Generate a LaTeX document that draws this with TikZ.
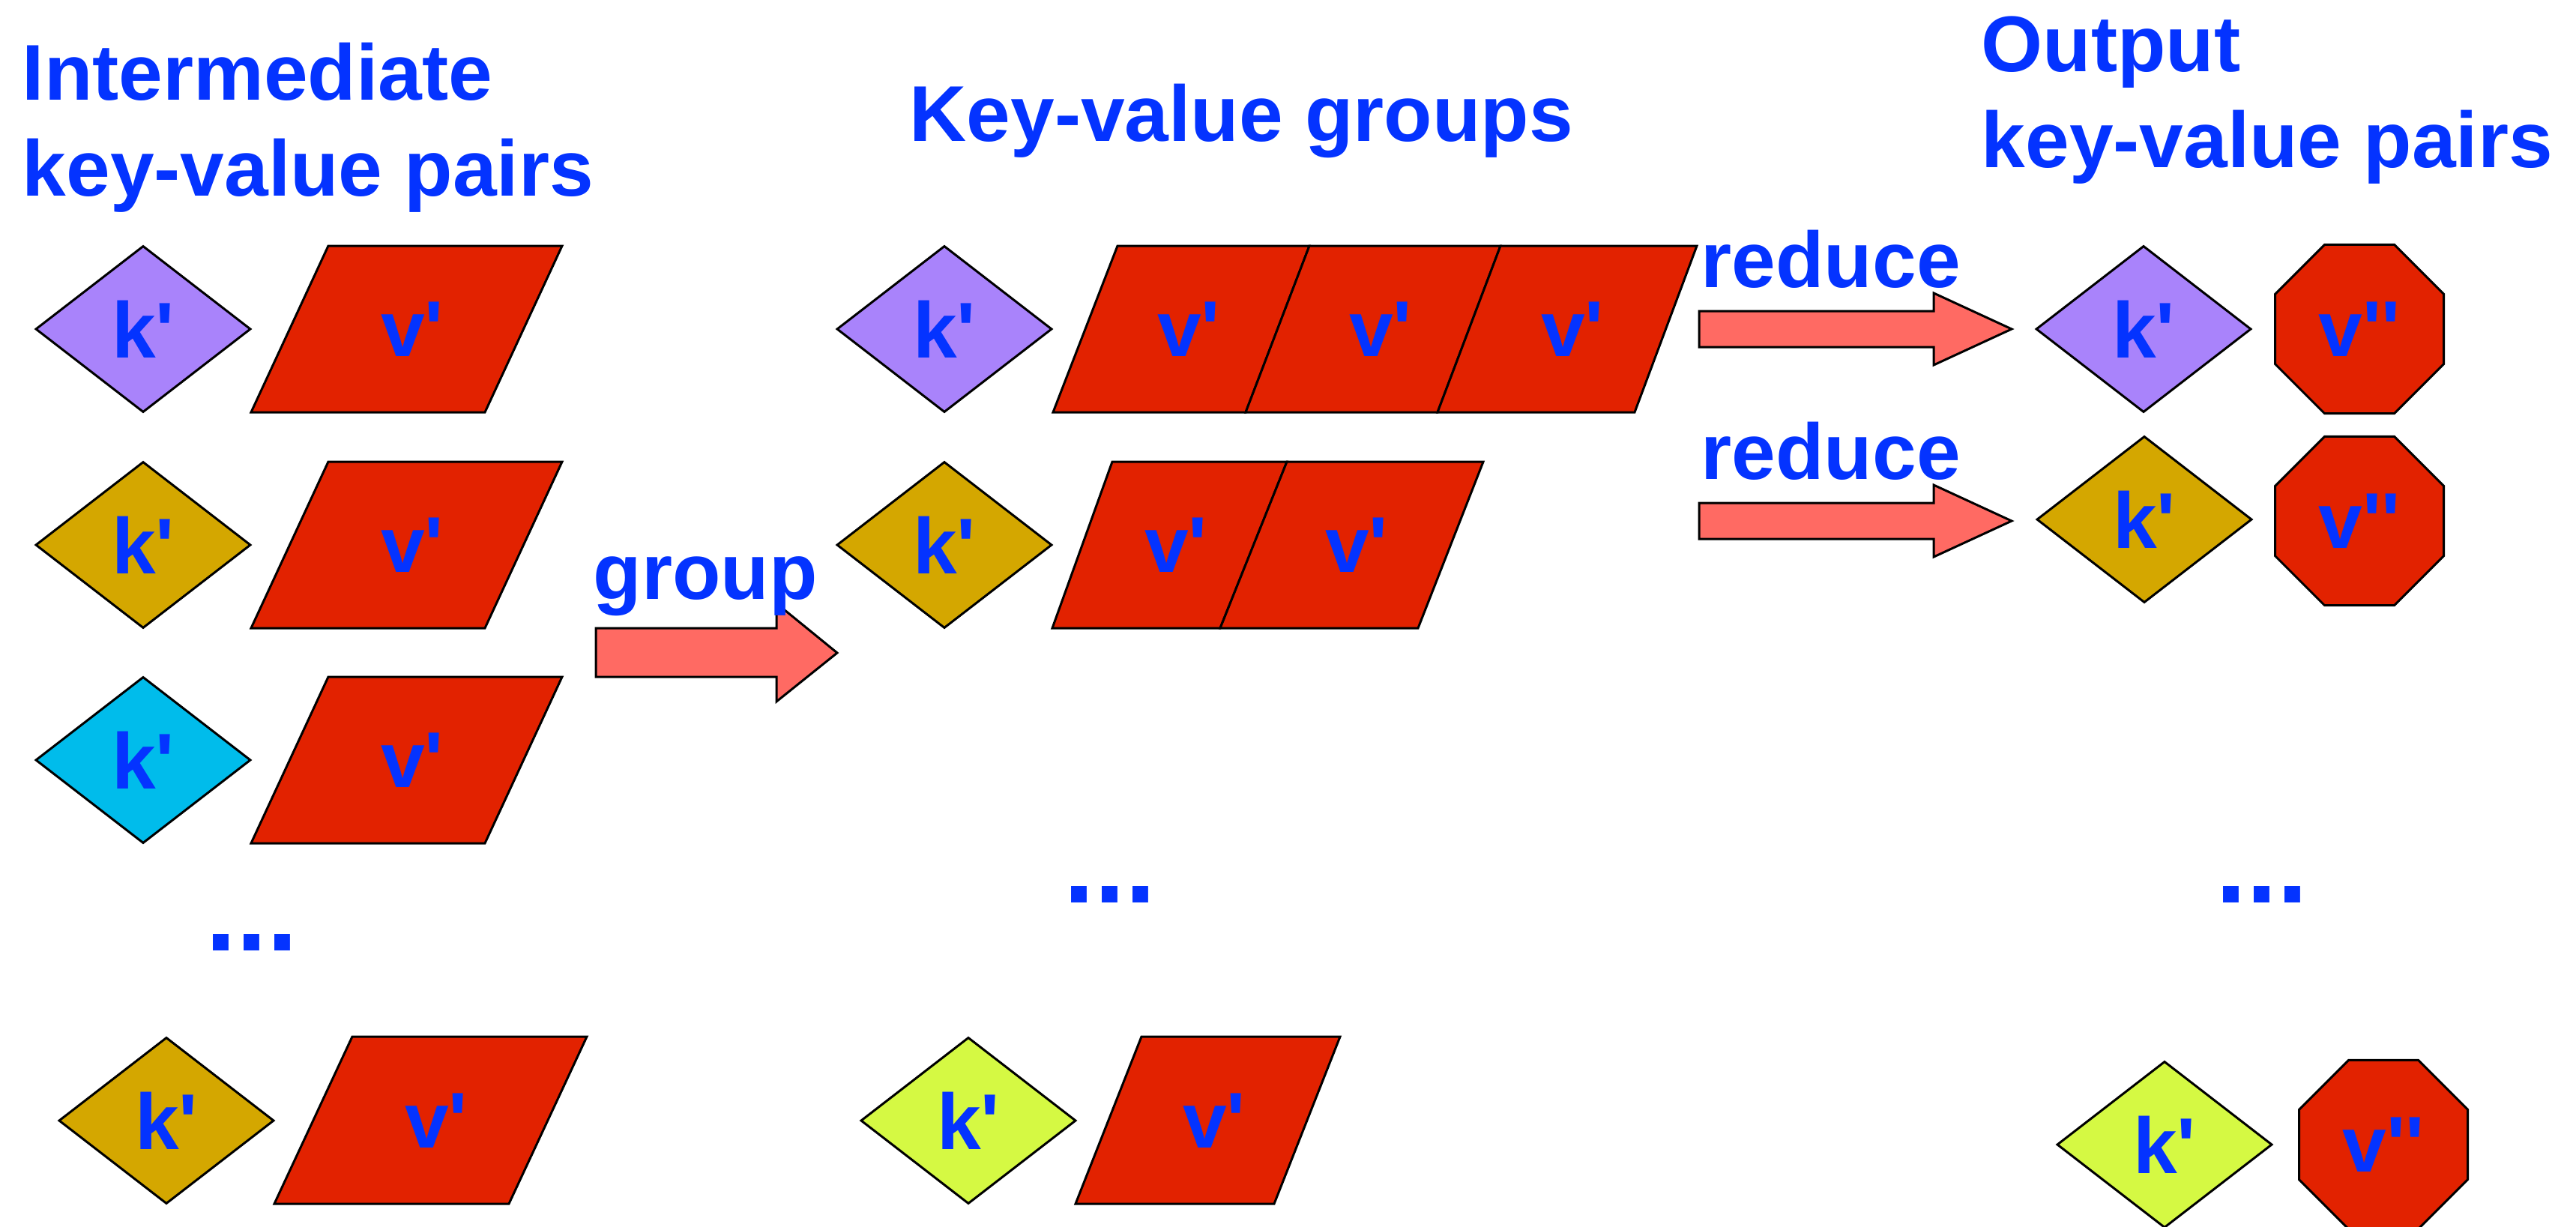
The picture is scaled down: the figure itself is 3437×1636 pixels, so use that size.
\documentclass[tikz,border=0pt]{standalone}
\usepackage{fontspec}
\newfontfamily\slidefont{Liberation Sans}
\usetikzlibrary{shapes.geometric}

\definecolor{txtblue}{HTML}{0433FF}
\definecolor{keypurple}{HTML}{A983FB}
\definecolor{keygold}{HTML}{D4A700}
\definecolor{keycyan}{HTML}{00BCEB}
\definecolor{keylime}{HTML}{D5F943}
\definecolor{valred}{HTML}{E22200}
\definecolor{arrowred}{HTML}{FF6A63}

\tikzset{
  lbl/.style={font=\slidefont\bfseries\fontsize{30}{36.4}\selectfont, text=txtblue, inner sep=0},
  dots/.style={font=\slidefont\bfseries\fontsize{42}{50}\selectfont, text=txtblue, inner sep=0, anchor=base},
  key/.style={diamond, draw=black, line width=0.85pt, inner sep=0, minimum width=2.87cm, minimum height=2.22cm, lbl},
  outval/.style={regular polygon, regular polygon sides=8, draw=black, fill=valred, line width=0.85pt, inner sep=0, minimum size=2.435cm, lbl},
  val/.style={draw=black, fill=valred, line width=0.85pt},
  blk/.style={draw=black, fill=arrowred, line width=0.85pt}
}

\begin{document}
\begin{tikzpicture}[x=0.01cm, y=-0.01cm]
\useasboundingbox (0,0) rectangle (3437,1636);

% titles
\node[lbl, align=left, anchor=north west] (inter) at (29,56) {Intermediate\\key-value pairs};
\node[lbl, anchor=base west] (groups) at (1213,188) {Key-value groups};
\node[lbl, align=left, anchor=north west] (output) at (2643,21) {Output\\key-value pairs};

% intermediate pairs
\node[key, fill=keypurple] (ka) at (191,439) {k\textquotesingle};
\draw[val] (335,550) -- (647,550) -- (750,328) -- (438,328) -- cycle;
\node[lbl] (va) at (550,439) {v\textquotesingle};
\node[key, fill=keygold] (kb) at (191,727) {k\textquotesingle};
\draw[val] (335,838) -- (647,838) -- (750,616) -- (438,616) -- cycle;
\node[lbl] (vb) at (550,727) {v\textquotesingle};
\node[key, fill=keycyan] (kc) at (191,1014) {k\textquotesingle};
\draw[val] (335,1125) -- (647,1125) -- (750,903) -- (438,903) -- cycle;
\node[lbl] (vc) at (550,1014) {v\textquotesingle};
\node[dots] (dl) at (336,1268) {...};
\node[key, fill=keygold] (kd) at (222,1495) {k\textquotesingle};
\draw[val] (366,1606) -- (679,1606) -- (783,1383) -- (470,1383) -- cycle;
\node[lbl] (vd) at (582,1495) {v\textquotesingle};

% group
\draw[blk] (795,838) -- (1036,838) -- (1036,805) -- (1117,871) -- (1036,936) -- (1036,903) -- (795,903) -- cycle;
\node[lbl, anchor=base west] (grp) at (791,799) {group};

% key-value groups
\node[key, fill=keypurple] (ga) at (1260,439) {k\textquotesingle};
\draw[val] (1405,550) -- (1662,550) -- (1747,328) -- (1491,328) -- cycle;
\draw[val] (1662,550) -- (1918,550) -- (2002,328) -- (1747,328) -- cycle;
\draw[val] (1918,550) -- (2181,550) -- (2264,328) -- (2002,328) -- cycle;
\node[lbl] (ga1) at (1586,439) {v\textquotesingle};
\node[lbl] (ga2) at (1842,439) {v\textquotesingle};
\node[lbl] (ga3) at (2098,439) {v\textquotesingle};
\node[key, fill=keygold] (gb) at (1260,727) {k\textquotesingle};
\draw[val] (1404,838) -- (1628,838) -- (1717,616) -- (1484,616) -- cycle;
\draw[val] (1628,838) -- (1892,838) -- (1979,616) -- (1717,616) -- cycle;
\node[lbl] (gb1) at (1569,727) {v\textquotesingle};
\node[lbl] (gb2) at (1810,727) {v\textquotesingle};
\node[dots] (dm) at (1481,1204) {...};
\node[key, fill=keylime] (gc) at (1292,1495) {k\textquotesingle};
\draw[val] (1435,1606) -- (1700,1606) -- (1788,1383) -- (1523,1383) -- cycle;
\node[lbl] (gc1) at (1620,1495) {v\textquotesingle};

% reduce
\draw[blk] (2267,415) -- (2580,415) -- (2580,391) -- (2684,439) -- (2580,487) -- (2580,463) -- (2267,463) -- cycle;
\node[lbl, anchor=base west] (reda) at (2269,383) {reduce};
\draw[blk] (2267,671) -- (2580,671) -- (2580,647) -- (2684,695) -- (2580,743) -- (2580,719) -- (2267,719) -- cycle;
\node[lbl, anchor=base west] (redb) at (2269,639) {reduce};

% output pairs
\node[key, fill=keypurple] (oa) at (2860,439) {k\textquotesingle};
\node[outval] (ova) at (3148,439) {v\textquotesingle\textquotesingle};
\node[key, fill=keygold] (ob) at (2861,693) {k\textquotesingle};
\node[outval] (ovb) at (3148,695) {v\textquotesingle\textquotesingle};
\node[dots] (dr) at (3018,1204) {...};
\node[key, fill=keylime] (oc) at (2888,1527) {k\textquotesingle};
\node[outval] (ovc) at (3180,1527) {v\textquotesingle\textquotesingle};
\end{tikzpicture}
\end{document}
